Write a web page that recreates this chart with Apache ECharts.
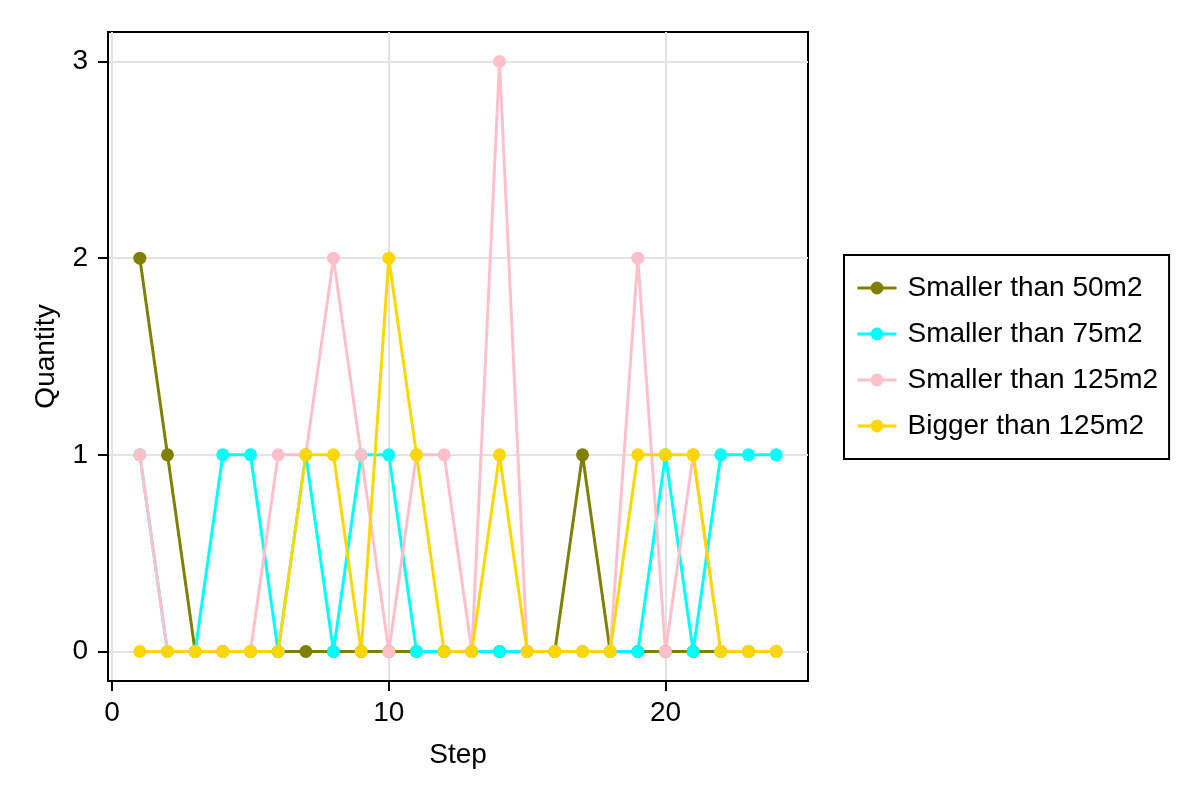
<!DOCTYPE html>
<html>
<head>
<meta charset="utf-8">
<script src="https://cdn.jsdelivr.net/npm/echarts@6/dist/echarts.min.js"></script>
<style>
  html, body { margin: 0; padding: 0; background: #fff; }
  #chart { width: 1200px; height: 800px; }
</style>
</head>
<body>
<div id="chart"></div>
<script>
// data
const steps = [1, 2, 3, 4, 5, 6, 7, 8, 9, 10, 11, 12, 13, 14, 15, 16, 17, 18, 19, 20, 21, 22, 23, 24];
const seriesNames = ['Smaller than 50m2', 'Smaller than 75m2', 'Smaller than 125m2', 'Bigger than 125m2'];
const smaller50 = [2, 1, 0, 0, 0, 0, 0, 0, 0, 0, 0, 0, 0, 0, 0, 0, 1, 0, 0, 0, 0, 0, 0, 0];
const smaller75 = [1, 0, 0, 1, 1, 0, 1, 0, 1, 1, 0, 0, 0, 0, 0, 0, 0, 0, 0, 1, 0, 1, 1, 1];
const smaller125 = [1, 0, 0, 0, 0, 1, 1, 2, 1, 0, 1, 1, 0, 3, 0, 0, 0, 0, 2, 0, 1, 0, 0, 0];
const bigger125 = [0, 0, 0, 0, 0, 0, 1, 1, 0, 2, 1, 0, 0, 1, 0, 0, 0, 0, 1, 1, 1, 0, 0, 0];
const xTicks = [0, 10, 20];
const yTicks = [0, 1, 2, 3];
const colors = ['#808000', '#00ffff', '#ffc0cb', '#ffd700'];

const values = [smaller50, smaller75, smaller125, bigger125];
const font = 'Liberation Sans, Arial, sans-serif';

const chart = echarts.init(document.getElementById('chart'));

const series = values.map((vals, i) => ({
  name: seriesNames[i],
  type: 'line',
  data: steps.map((s, j) => [s, vals[j]]),
  symbol: 'circle',
  symbolSize: 13,
  showAllSymbol: true,
  color: colors[i],
  lineStyle: { width: 3, color: colors[i] },
  itemStyle: { color: colors[i] },
  emphasis: { disabled: true }
}));

chart.setOption({
  animation: false,
  textStyle: { fontFamily: font },
  grid: {
    left: 108, right: 392, top: 32, bottom: 119,
    show: true, borderColor: '#000', borderWidth: 2
  },
  legend: {
    orient: 'vertical',
    left: 844, top: 255,
    padding: [19, 11, 19, 12],
    itemGap: 18,
    itemWidth: 39,
    itemHeight: 16,
    borderColor: '#000',
    borderWidth: 2,
    selectedMode: false,
    lineStyle: { width: 3 },
    textStyle: { fontSize: 28, lineHeight: 28, color: '#000', fontFamily: font, padding: [0, 0, 0, 6] },
    data: seriesNames
  },
  xAxis: {
    type: 'value',
    min: -0.15, max: 25.15,
    name: 'Step',
    nameLocation: 'middle',
    nameGap: 60,
    nameTextStyle: { fontSize: 28, color: '#000', fontFamily: font },
    axisLine: { show: true, onZero: false, lineStyle: { color: '#000', width: 2 } },
    axisTick: { show: true, customValues: xTicks, length: 10, lineStyle: { color: '#000', width: 2 } },
    axisLabel: { customValues: xTicks, fontSize: 28, color: '#000', margin: 18, fontFamily: font },
    splitLine: { show: true, lineStyle: { color: '#e3e3e3', width: 2 } }
  },
  yAxis: {
    type: 'value',
    min: -0.15, max: 3.15,
    name: 'Quantity',
    nameLocation: 'middle',
    nameGap: 48,
    nameTextStyle: { fontSize: 28, color: '#000', fontFamily: font },
    axisLine: { show: true, onZero: false, lineStyle: { color: '#000', width: 2 } },
    axisTick: { show: true, customValues: yTicks, length: 10, lineStyle: { color: '#000', width: 2 } },
    axisLabel: { customValues: yTicks, fontSize: 28, color: '#000', margin: 20, fontFamily: font },
    splitLine: { show: true, lineStyle: { color: '#e3e3e3', width: 2 } }
  },
  series: series
});
</script>
</body>
</html>
